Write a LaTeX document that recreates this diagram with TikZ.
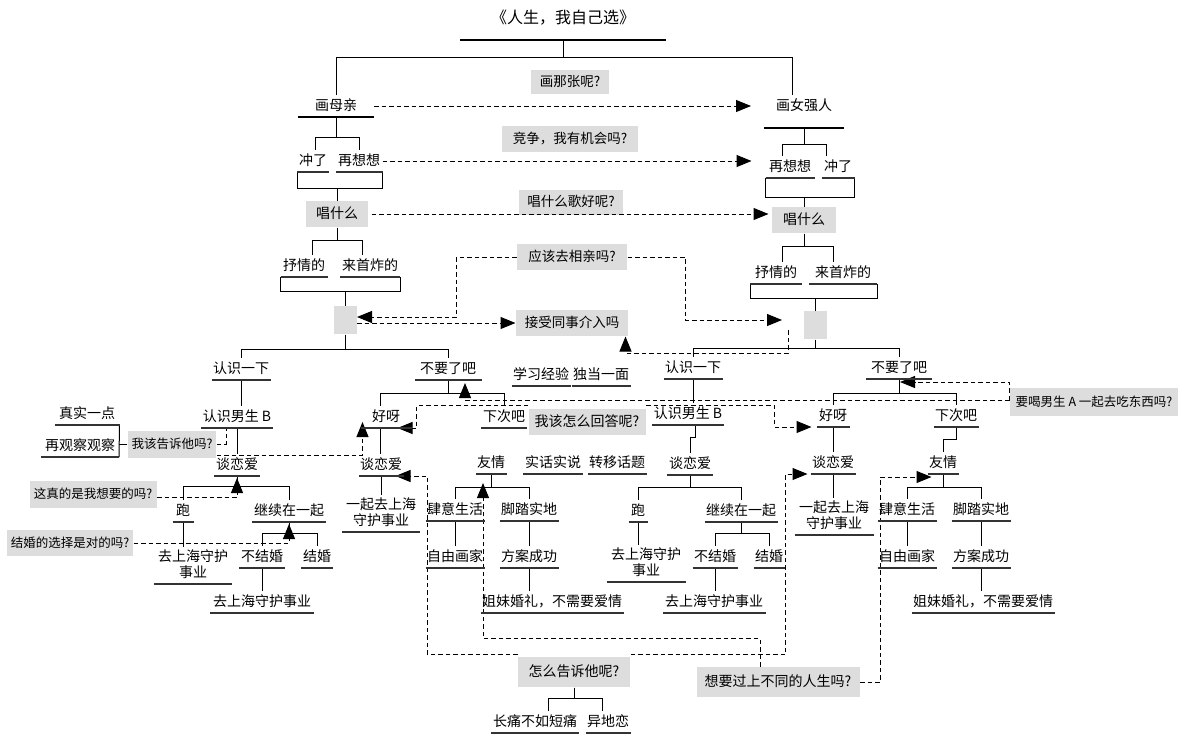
\documentclass[tikz,border=0pt]{standalone}
\usepackage{fontspec}
\setmainfont{Noto Sans CJK SC}
\usetikzlibrary{arrows.meta}
\definecolor{boxgray}{HTML}{DCDDDC}
\definecolor{ulgray}{HTML}{333333}

\begin{document}
\begin{tikzpicture}[
    x=1pt, y=-1pt,
    line width=1pt,
    font=\fontsize{14}{15.5}\selectfont,
    ln/.style={
      anchor=south,
      inner xsep=1pt,
      inner ysep=2.5pt,
      text height=12pt,
      text depth=4pt
    },
    ln2/.style={ln, align=center, text height=27.5pt},
    qbox/.style={
      fill=boxgray,
      inner xsep=4pt,
      inner ysep=0pt,
      text height=12pt,
      text depth=3pt,
      font=\fontsize{13.5}{15}\selectfont
    },
    small/.style={font=\fontsize{12.5}{15}\selectfont},
    ebox/.style={fill=boxgray, minimum width=23pt, minimum height=28pt},
    ul/.style={line width=1.1pt, ulgray},
    bar/.style={line width=2.4pt},
    dsh/.style={dash pattern=on 4.5pt off 3pt, line width=1pt},
    tri/.style={-{Triangle[length=15pt,width=12pt]}}
  ]
  \useasboundingbox (0,0) rectangle (1182,736);

  \node (title) at (563,40) [anchor=south, inner ysep=0pt, text height=13pt, text depth=16pt, minimum width=205pt, font=\fontsize{16}{18}\selectfont] {《人生，我自己选》};
  \node [ln] (mq) at (336,117) [minimum width=75pt] {画母亲};
  \node [ln] (nqr) at (804,128) [minimum width=79pt, text depth=15pt] {画女强人};
  \draw (title.south) -- ++(0,17) -| (mq.north);
  \draw (title.south) -- ++(0,17) -| ([xshift=-12pt]nqr.north);

  \node [ln] (cl1) at (313,172) [minimum width=31pt] {冲了};
  \node [ln] (zx1) at (359,172) [minimum width=46pt] {再想想};
  \draw (mq.south) -- ++(0,20) -| ([xshift=2pt]cl1.north);
  \draw (mq.south) -- ++(0,20) -| (zx1.north);
  \draw (cl1.south west) -- ++(0,16) -| (zx1.south east);
  \node [qbox] (cs1) at (337,214) [minimum width=62pt, minimum height=26pt, font=\fontsize{14}{16}\selectfont] {唱什么};
  \draw (cs1.north) -- ++(0,-13);

  \node [ln] (zx2) at (790,178) [minimum width=48pt] {再想想};
  \node [ln] (cl2) at (838,178) [minimum width=32pt] {冲了};
  \draw (nqr.south) -- ++(0,16) -| ([xshift=-8pt]zx2.north);
  \draw (nqr.south) -- ++(0,16) -| ([xshift=-12pt]cl2.north);
  \draw (zx2.south west) -- ++(0,19) -| (cl2.south east);
  \node [qbox] (cs2) at (804,220) [minimum width=64pt, minimum height=26pt, font=\fontsize{14}{16}\selectfont] {唱什么};
  \draw (cs2.north) -- ++(0,-10);

  \node [qbox] (q1) at (570,82) [minimum width=78pt, minimum height=24pt] {画那张呢?};
  \draw [dsh,tri] (mq.east) -- ([xshift=-13pt]mq.east -| nqr.west);
  \node [qbox] (q2) at (570,139) [minimum width=136pt, minimum height=26pt] {竞争，我有机会吗?};
  \draw [dsh,tri] (zx1.east) -- ([xshift=-14pt]zx1.east -| zx2.west);
  \node [qbox] (q3) at (571,202) [minimum width=104pt, minimum height=25pt] {唱什么歌好呢?};
  \draw [dsh,tri] ([xshift=3pt]cs1.east) -- ([xshift=-3pt]cs1.east -| cs2.west);

  \node [ln] (sq1) at (304,277) [minimum width=46pt] {抒情的};
  \node [ln] (lz1) at (370,277) [minimum width=59pt] {来首炸的};
  \draw (cs1.south) -- ++(0,13) -| ([xshift=8pt]sq1.north);
  \draw (cs1.south) -- ++(0,13) -| ([xshift=-8pt]lz1.north);
  \draw (sq1.south west) -- ++(0,14) -| (lz1.south east);
  \node [ebox] (eb1) at (345,320) {};
  \draw (eb1.north) -- ++(0,-15);

  \node [ln] (sq2) at (776,284) [minimum width=51pt] {抒情的};
  \node [ln] (lz2) at (843,284) [minimum width=67pt] {来首炸的};
  \draw (cs2.south) -- ++(0,13) -| ([xshift=6pt]sq2.north);
  \draw (cs2.south) -- ++(0,13) -| ([xshift=-10pt]lz2.north);
  \draw (sq2.south west) -- ++(0,14) -| (lz2.south east);
  \node [ebox] (eb2) at (815,325) {};
  \draw (eb2.north) -- ++(0,-13);

  \node [qbox] (gq4) at (572,257) [minimum width=110pt, minimum height=26pt] {应该去相亲吗?};
  \node [qbox] (jq) at (572,323) [minimum width=112pt, minimum height=26pt] {接受同事介入吗};
  \draw [dsh,tri] (gq4.west) -- ++(-60,0) |- ([yshift=3pt]eb1.east);
  \draw [dsh,tri] ([yshift=-3pt]eb1.east) -- ([yshift=-3pt]eb1.east -| jq.west);
  \draw [dsh,tri] (gq4.east) -- ++(58,0) |- ([xshift=-21pt,yshift=5pt]eb2.west);
  \draw [dsh,tri] ([xshift=-15pt,yshift=-5pt]eb2.west) -- ++(0,23) -| ([xshift=-3pt]jq.south east);

  \node [ln] (rs1) at (241,380) [minimum width=58pt] {认识一下};
  \node [ln] (bl1) at (448,380) [minimum width=66pt] {不要了吧};
  \draw (eb1.south) -- ++(0,15) -| (rs1.north);
  \draw (eb1.south) -- ++(0,15) -| (bl1.north);
  \node [ln] (rs2) at (693,379) [minimum width=57pt] {认识一下};
  \node [ln] (bl2) at (899,379) [minimum width=65pt] {不要了吧};
  \draw (eb2.south) -- ++(0,9) -| (rs2.north);
  \draw (eb2.south) -- ++(0,9) -| (bl2.north);
  \node [ln] (xx) at (541,386) [minimum width=57pt] {学习经验};
  \node [ln] (dd) at (601,386) [minimum width=57pt] {独当一面};

  \node [ln] (rsb1) at (237,428) [minimum width=71pt] {认识男生 B};
  \draw (rs1.south) -- (rs1.south |- rsb1.north);
  \node [ln] (ta1) at (237,476) [minimum width=45pt] {谈恋爱};
  \draw (rsb1.south) -- (ta1.north);
  \node [ln] (zs) at (87,425) [minimum width=64pt] {真实一点};
  \node [ln] (zg) at (80,457) [minimum width=77pt] {再观察观察};
  \draw (zs.south east) -- (zg.south east);
  \node [qbox] (gq1) at (172,444) [minimum width=88pt, minimum height=27pt, small] {我该告诉他吗?};
  \draw (gq1.west) -- (gq1.west -| zg.south east);

  \node [ln] (hy1) at (386,428) [minimum width=50pt] {好呀};
  \node [ln] (xc1) at (504,428) [minimum width=45pt] {下次吧};
  \draw (bl1.south) -- ++(0,13) -| ([xshift=-6pt]hy1.north);
  \draw (bl1.south) -- ++(0,13) -| (xc1.north);
  \node [ln] (ta2) at (381,476) [minimum width=44pt] {谈恋爱};
  \draw ([xshift=-6pt]hy1.south) -- ([xshift=-6pt]hy1.south |- ta2.north);
  \node [ln2] (qs1) at (381,532) [minimum width=77pt] {一起去上海\\守护事业};
  \draw (ta2.south) -- (qs1.north);
  \draw [dsh] (gq1.east) -| ([xshift=-11pt]rsb1.south);
  \draw [dsh,tri] ([yshift=3pt]gq1.south east) -| ([xshift=2pt,yshift=6pt]hy1.south west);

  \node [ln] (rsb2) at (688,425) [minimum width=70pt] {认识男生 B};
  \draw (rs2.south) -- (rs2.south |- rsb2.north);
  \node [ln] (ta4) at (690,475) [minimum width=45pt] {谈恋爱};
  \draw ([xshift=7pt]rsb2.south) -- ++(0,12) -| (ta4.north);
  \node [ln] (pa2) at (638,522) [minimum width=18pt] {跑};
  \node [ln] (jx2) at (741,522) [minimum width=72pt] {继续在一起};
  \draw (ta4.south) -- ++(0,12) -| (pa2.north);
  \draw (ta4.south) -- ++(0,12) -| (jx2.north);
  \node [ln2] (sh2) at (646,582) [minimum width=78pt] {去上海守护\\事业};
  \draw (pa2.south) -- (pa2.south |- sh2.north);
  \node [ln] (bj2) at (715,568) [minimum width=44pt] {不结婚};
  \node [ln] (jh2) at (769,568) [minimum width=28pt] {结婚};
  \draw (jx2.south) -- ++(0,11) -| (bj2.north);
  \draw (jx2.south) -- ++(0,11) -| (jh2.north);
  \node [ln] (sh3) at (714,613) [minimum width=102pt] {去上海守护事业};
  \draw (bj2.south) -- (bj2.south |- sh3.north);

  \node [ln] (pa1) at (183,522) [minimum width=20pt] {跑};
  \node [ln] (jx1) at (289,522) [minimum width=73pt] {继续在一起};
  \draw (ta1.south) -- ++(0,10) -| (pa1.north);
  \draw (ta1.south) -- ++(0,10) -| (jx1.north);
  \node [ln2] (sh1) at (193,584) [minimum width=77pt] {去上海守护\\事业};
  \draw (pa1.south) -- (pa1.south |- sh1.north);
  \node [ln] (bj1) at (262,568) [minimum width=45pt] {不结婚};
  \node [ln] (jh1) at (317,568) [minimum width=31pt] {结婚};
  \draw (jx1.south) -- ++(0,11) -| (bj1.north);
  \draw (jx1.south) -- ++(0,11) -| (jh1.north);
  \node [ln] (sh4) at (262,613) [minimum width=103pt] {去上海守护事业};
  \draw (bj1.south) -- (bj1.south |- sh4.north);
  \node [qbox] (zd) at (93,494) [minimum width=127pt, minimum height=27pt, small] {这真的是我想要的吗?};
  \draw [dsh,tri] ([yshift=-3pt]zd.east) -| ([yshift=-2pt]ta1.south);
  \node [qbox] (jd) at (70,543) [minimum width=126pt, minimum height=26pt, small] {结婚的选择是对的吗?};
  \draw [dsh,tri] (jd.east) -| ([yshift=-2pt]jx1.south);

  \node [ln] (yo1) at (491,474) [minimum width=30pt] {友情};
  \node [ln] (ss) at (553,474) [minimum width=59pt] {实话实说};
  \node [ln] (zt) at (617,474) [minimum width=58pt] {转移话题};
  \node [ln] (sy1) at (455,521) [minimum width=50pt] {肆意生活};
  \node [ln] (jt1) at (529,521) [minimum width=51pt] {脚踏实地};
  \draw (yo1.south) -- ++(0,13) -| (sy1.north);
  \draw (yo1.south) -- ++(0,13) -| (jt1.north);
  \node [ln] (zy1) at (455,568) [minimum width=50pt] {自由画家};
  \node [ln] (fa1) at (529,568) [minimum width=51pt] {方案成功};
  \draw (sy1.south) -- (zy1.north);
  \draw (jt1.south) -- (fa1.north);
  \node [ln] (jm1) at (552,613) [minimum width=131pt] {姐妹婚礼，不需要爱情};
  \draw (fa1.south) -- (fa1.south |- jm1.north);

  \node [ln] (hy2) at (833,427) [minimum width=32pt] {好呀};
  \node [ln] (xc2) at (956,427) [minimum width=43pt] {下次吧};
  \draw (bl2.south) -- ++(0,14) -| (hy2.north);
  \draw (bl2.south) -- ++(0,14) -| (xc2.north);
  \node [ln] (ta3) at (833,474) [minimum width=44pt] {谈恋爱};
  \draw (hy2.south) -- (ta3.north);
  \node [ln2] (qs2) at (834,535) [minimum width=78pt] {一起去上海\\守护事业};
  \draw (ta3.south) -- (ta3.south |- qs2.north);
  \node [ln] (yo2) at (943,474) [minimum width=30pt] {友情};
  \draw (xc2.south) -- ++(0,12) -| (yo2.north);
  \node [ln] (sy2) at (907,521) [minimum width=50pt] {肆意生活};
  \node [ln] (jt2) at (981,521) [minimum width=51pt] {脚踏实地};
  \draw (yo2.south) -- ++(0,13) -| (sy2.north);
  \draw (yo2.south) -- ++(0,13) -| (jt2.north);
  \node [ln] (zy2) at (907,568) [minimum width=49pt] {自由画家};
  \node [ln] (fa2) at (981,568) [minimum width=51pt] {方案成功};
  \draw (sy2.south) -- (zy2.north);
  \draw (jt2.south) -- (fa2.north);
  \node [ln] (jm2) at (983,613) [minimum width=131pt] {姐妹婚礼，不需要爱情};
  \draw (fa2.south) -- (fa2.south |- jm2.north);

  \node [qbox] (gq2) at (587,422) [minimum width=117pt, minimum height=26pt, font=\fontsize{14}{16}\selectfont] {我该怎么回答呢?};
  \draw [dsh,tri] ([yshift=3pt]gq2.north west) -| ([xshift=5pt]hy1.south east) -- ([xshift=-14pt]hy1.south east);
  \draw [dsh,tri] ([yshift=3pt]gq2.north east) -| ([xshift=-42pt]hy2.south west) -- ([xshift=-5pt]hy2.south west);

  \node [qbox] (yh) at (1094,402) [minimum width=168pt, minimum height=28pt, small] {要喝男生 A 一起去吃东西吗?};
  \draw [dsh,tri] ([yshift=2pt]yh.west) -| ([xshift=17pt,yshift=-3pt]bl1.south);
  \draw [dsh,tri] ([yshift=2pt]yh.west) |- ([xshift=1pt,yshift=-3pt]bl2.south);

  \node [qbox] (gq3) at (574,672) [minimum width=112pt, minimum height=30pt, font=\fontsize{14}{16}\selectfont] {怎么告诉他呢?};
  \draw [dsh,tri] ([yshift=2pt]gq3.north west) -| ([xshift=24pt]ta2.south east) -- ([xshift=-8pt]ta2.south east);
  \draw [dsh,tri] ([yshift=2pt]gq3.north east) -| ([xshift=-25pt]ta3.south west) -- ([xshift=-3pt]ta3.south west);
  \node [ln] (ct) at (535,733) [minimum width=87pt] {长痛不如短痛};
  \node [ln] (yd) at (608,733) [minimum width=43pt] {异地恋};
  \draw (gq3.south) -- ++(0,11) -| ([xshift=13pt]ct.north);
  \draw (gq3.south) -- ++(0,11) -| ([xshift=-6pt]yd.north);

  \node [qbox] (xy) at (778,682) [minimum width=163pt, minimum height=30pt, font=\fontsize{14}{16}\selectfont] {想要过上不同的人生吗?};
  \draw [dsh,tri] ([xshift=-18pt]xy.north) -- ++(0,-28) -| ([xshift=-8pt,yshift=-9pt]yo1.south);
  \draw [dsh,tri] (xy.east) -- ++(20,0) |- ([xshift=4pt,yshift=-3pt]yo2.south west);

  \draw [bar] (title.south west) -- (title.south east);
  \draw [bar] (mq.south west) -- (mq.south east);
  \draw [bar] (nqr.south west) -- (nqr.south east);
  \foreach \n in {cl1,zx1,zx2,cl2,sq1,lz1,sq2,lz2,rs1,bl1,rs2,bl2,xx,dd,
      rsb1,ta1,zs,zg,hy1,xc1,ta2,qs1,rsb2,ta4,pa2,jx2,sh2,bj2,jh2,sh3,
      pa1,jx1,sh1,bj1,jh1,sh4,yo1,ss,zt,sy1,jt1,zy1,fa1,jm1,
      hy2,xc2,ta3,qs2,yo2,sy2,jt2,zy2,fa2,jm2,ct,yd}
    \draw [ul] (\n.south west) -- (\n.south east);
\end{tikzpicture}
\end{document}
